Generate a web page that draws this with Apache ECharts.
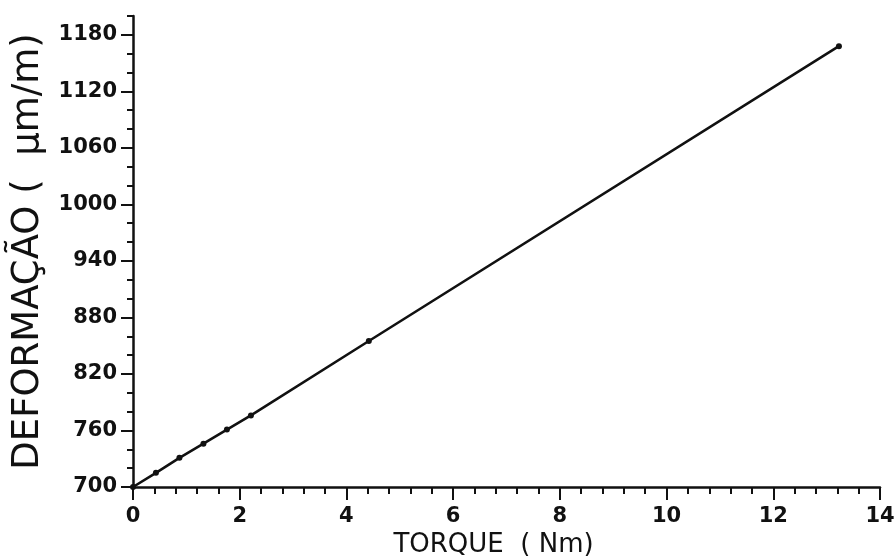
<!DOCTYPE html>
<html>
<head>
<meta charset="utf-8">
<script src="https://cdn.jsdelivr.net/npm/echarts@6/dist/echarts.min.js"></script>
<style>
html,body{margin:0;padding:0;background:#fff;}
#chart{width:894px;height:556px;}
</style>
</head>
<body>
<div id="chart"></div>
<script>
const torque = [0, 0.43, 0.87, 1.32, 1.76, 2.21, 4.42, 13.23];
const deformacao = [700, 715, 731, 746, 761, 776, 855, 1168];
const xTickLabels = [0, 2, 4, 6, 8, 10, 12, 14];
const yTickLabels = [700, 760, 820, 880, 940, 1000, 1060, 1120, 1180];
const xTitle = 'TORQUE  ( Nm)';
const yTitle = 'DEFORMAÇÃO (  μm/m)';

const chart = echarts.init(document.getElementById('chart'));
const labelFont = {color: '#111', fontFamily: 'DejaVu Sans', fontSize: 21, fontWeight: 'bold'};
const grid = {left: 133, right: 14, top: 16, bottom: 69, containLabel: false, outerBoundsMode: 'none'};
chart.setOption({
  animation: false,
  backgroundColor: '#fff',
  grid: grid,
  xAxis: [{
    type: 'value', min: 0, max: 14, interval: 2,
    name: xTitle, nameLocation: 'middle', nameGap: 44,
    nameTextStyle: {color: '#111', fontFamily: 'DejaVu Sans', fontSize: 26, padding: [0, 26, 0, 0]},
    axisLine: {show: true, lineStyle: {color: '#111', width: 2.5}},
    axisTick: {show: true, inside: false, length: 13, lineStyle: {color: '#111', width: 2}},
    minorTick: {show: true, splitNumber: 5, length: 7, lineStyle: {color: '#111', width: 2}},
    axisLabel: {...labelFont, margin: 19, customValues: xTickLabels, formatter: v => String(v)},
    splitLine: {show: false}
  }],
  yAxis: [{
    type: 'value', min: 700, max: 1200,
    name: yTitle, nameLocation: 'middle', nameGap: 86, nameRotate: 90,
    nameTextStyle: {color: '#111', fontFamily: 'DejaVu Sans', fontSize: 37},
    axisLine: {show: true, lineStyle: {color: '#111', width: 2.5}},
    axisTick: {show: true, length: 12, customValues: yTickLabels, lineStyle: {color: '#111', width: 2}},
    axisLabel: {...labelFont, margin: 16, customValues: yTickLabels, formatter: v => String(v)},
    splitLine: {show: false}
  }, {
    type: 'value', min: 700, max: 1200, interval: 20, position: 'left',
    axisLine: {show: false},
    axisTick: {show: true, length: 6, lineStyle: {color: '#111', width: 2}},
    axisLabel: {show: false},
    splitLine: {show: false}
  }],
  series: [{
    type: 'line',
    data: torque.map((t, i) => [t, deformacao[i]]),
    symbol: 'circle', symbolSize: 6,
    lineStyle: {color: '#111', width: 2.6},
    itemStyle: {color: '#111'}
  }]
});
</script>
</body>
</html>
